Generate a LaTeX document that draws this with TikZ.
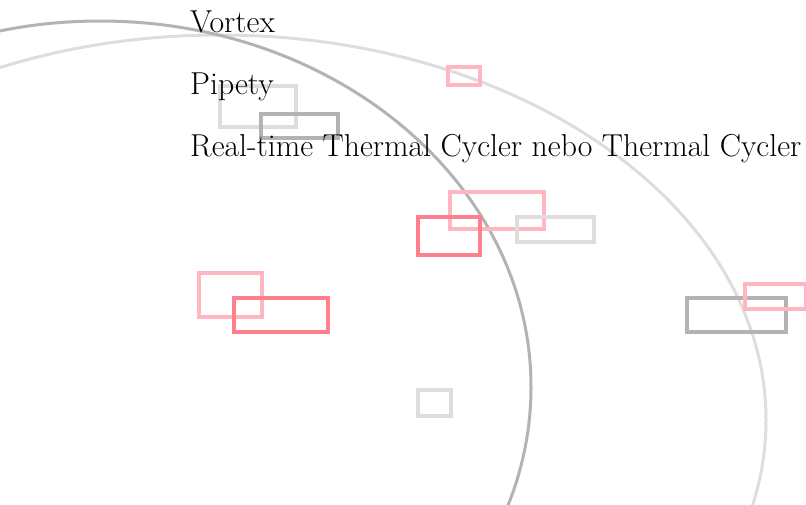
\documentclass[tikz,border=0pt]{standalone}
\usepackage{tikz}
\usetikzlibrary{positioning}
\definecolor{lpink}{HTML}{FFB6C1}
\definecolor{lred}{HTML}{FF7F8C}
\definecolor{mgray}{HTML}{B3B3B3}
\definecolor{lgray}{HTML}{DDDDDD}
\tikzset{
  label/.style={anchor=base west, inner sep=0pt, font=\fontsize{31.7}{38}\selectfont},
  frame/.style={line width=3.5pt},
  ring/.style={line width=3pt}
}

\begin{document}
\begin{tikzpicture}[x=1pt,y=-1pt]
	\useasboundingbox (0,0) rectangle (806,504);
	%Rings
	\draw[ring, lgray] (220,420) ellipse [x radius=546pt, y radius=385pt];
	\draw[ring, mgray] (100,387) ellipse [x radius=431pt, y radius=366pt];
	%Frames
	\draw[frame, lgray] (220,86) rectangle (296,127);
	\draw[frame, mgray] (261,114) rectangle (338,138);
	\draw[frame, lpink] (448,67) rectangle (480,85);
	\draw[frame, lpink] (450,192) rectangle (544,229);
	\draw[frame, lgray] (517,217) rectangle (594,242);
	\draw[frame, lred] (418,217) rectangle (480,255);
	\draw[frame, lpink] (199,273) rectangle (262,317);
	\draw[frame, lred] (234,298) rectangle (328,332);
	\draw[frame, lgray] (418,390) rectangle (451,416);
	\draw[frame, mgray] (687,298) rectangle (786,332);
	\draw[frame, lpink] (745,284) rectangle (806,309);
	%Labels
	\node[label] (vortex) at (190,32) {Vortex};
	\node[label] (pipety) at (190,94) {Pipety};
	\node[label] (cycler) at (190,156) {Real-time Thermal Cycler nebo Thermal Cycler};
\end{tikzpicture}
\end{document}
